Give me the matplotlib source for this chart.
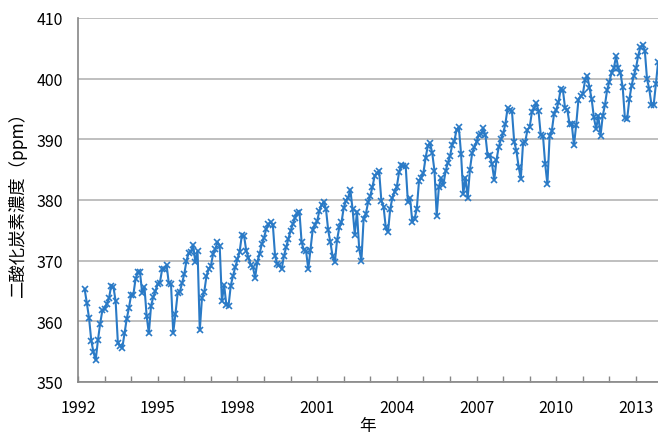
"""
Monthly CO2 concentration, 1992-2013
"""

import matplotlib
matplotlib.use('Agg')
from matplotlib import pyplot as plt
from matplotlib.ticker import MultipleLocator
import numpy as np

plt.rcParams['font.family'] = ['Noto Sans CJK JP', 'DejaVu Sans']

# first value is April 1992, one value per month
first_year = 1992
first_month = 4

co2_1992 = [365.3, 363.0, 360.5, 356.8, 354.9, 353.6, 356.9, 359.6, 361.8]
co2_1993 = [362.0, 362.9, 363.8, 365.9, 365.7, 363.3, 356.5, 356.0, 355.6, 358.0, 360.4, 362.2]
co2_1994 = [364.4, 364.4, 367.0, 368.1, 368.1, 364.6, 365.7, 360.9, 358.0, 362.6, 364.0, 365.0]
co2_1995 = [366.2, 366.4, 368.6, 368.7, 369.3, 366.3, 366.2, 358.1, 361.2, 364.6, 364.9, 366.3]
co2_1996 = [367.8, 370.0, 371.3, 371.5, 372.6, 369.7, 371.6, 358.5, 363.9, 364.8, 367.4, 368.6]
co2_1997 = [369.1, 371.1, 371.9, 373.1, 372.4, 363.3, 366.0, 362.7, 362.6, 365.9, 367.5, 368.9]
co2_1998 = [370.2, 371.5, 374.2, 374.1, 371.6, 370.5, 369.3, 368.9, 367.2, 369.8, 371.1, 372.7]
co2_1999 = [373.8, 375.2, 376.0, 376.3, 375.9, 370.8, 369.4, 369.3, 368.6, 370.8, 372.2, 373.6]
co2_2000 = [374.9, 376.0, 377.1, 377.9, 378.1, 373.0, 371.8, 371.6, 368.6, 371.8, 375.1, 375.9]
co2_2001 = [376.5, 378.2, 379.2, 379.7, 378.5, 375.0, 373.0, 370.7, 369.7, 373.4, 375.5, 376.3]
co2_2002 = [378.7, 379.9, 380.4, 381.7, 378.5, 374.3, 378.1, 371.9, 370.0, 376.9, 377.7, 379.6]
co2_2003 = [380.7, 382.2, 384.0, 384.4, 384.8, 379.9, 378.9, 375.5, 374.7, 378.5, 380.4, 381.4]
co2_2004 = [382.2, 384.6, 385.8, 385.6, 385.6, 379.6, 380.3, 376.3, 376.9, 378.5, 383.1, 383.7]
co2_2005 = [384.5, 387.0, 388.9, 389.4, 387.7, 384.8, 377.4, 382.2, 383.6, 382.5, 384.7, 386.1]
co2_2006 = [387.2, 389.1, 389.8, 391.6, 392.0, 387.6, 381.0, 383.7, 380.3, 385.0, 387.7, 388.7]
co2_2007 = [389.6, 390.7, 390.9, 391.8, 390.7, 387.3, 387.4, 385.9, 383.3, 386.6, 388.7, 390.0]
co2_2008 = [391.0, 392.5, 395.1, 394.9, 394.6, 389.6, 388.1, 385.5, 383.5, 389.4, 389.6, 391.6]
co2_2009 = [392.0, 394.5, 395.1, 396.0, 394.6, 390.7, 390.6, 385.9, 382.6, 390.5, 391.4, 394.2]
co2_2010 = [394.9, 396.1, 398.3, 398.1, 395.1, 394.9, 392.5, 392.5, 389.0, 392.4, 396.5, 397.1]
co2_2011 = [397.5, 399.7, 400.5, 398.5, 396.6, 393.6, 391.7, 393.9, 390.6, 393.9, 395.7, 398.2]
co2_2012 = [399.5, 401.0, 401.7, 403.7, 401.7, 400.9, 398.6, 393.5, 393.3, 396.6, 398.8, 400.5]
co2_2013 = [401.7, 403.8, 405.2, 405.5, 404.6, 399.9, 398.3, 395.7, 395.7, 399.1, 402.8]

ylabel = '二酸化炭素濃度（ppm）'
xlabel = '年'


def plot_co2():
    co2 = (co2_1992 + co2_1993 + co2_1994 + co2_1995 + co2_1996 + co2_1997 +
           co2_1998 + co2_1999 + co2_2000 + co2_2001 + co2_2002 + co2_2003 +
           co2_2004 + co2_2005 + co2_2006 + co2_2007 + co2_2008 + co2_2009 +
           co2_2010 + co2_2011 + co2_2012 + co2_2013)
    months = np.arange(len(co2)) + (first_month - 1)
    t = first_year + months / 12.0

    fig = plt.figure(figsize=(6.58, 4.39), dpi=100)
    ax = fig.add_axes([78 / 658, 1 - 383 / 439, 580 / 658, 364 / 439])

    ax.plot(t, co2, color='#2a7ac6', lw=1.5, marker='x', ms=4, mew=1.2)

    ax.set_xlim(1992, 1992 + 580 / 26.57)
    ax.set_ylim(350, 410)
    ax.xaxis.set_major_locator(MultipleLocator(3))
    ax.xaxis.set_minor_locator(MultipleLocator(1))
    ax.yaxis.set_major_locator(MultipleLocator(10))
    ax.grid(axis='y', color='#bfbfbf', lw=1.4)
    ax.set_axisbelow(True)

    for s in ['top', 'right']:
        ax.spines[s].set_visible(False)
    for s in ['left', 'bottom']:
        ax.spines[s].set_color('#868686')
        ax.spines[s].set_linewidth(1.2)

    ax.tick_params(axis='x', which='both', direction='in', length=4.5,
                   color='#868686', width=1, labelsize=11.5, pad=12)
    ax.tick_params(axis='y', length=0, labelsize=11.5, pad=11)

    ax.set_ylabel(ylabel, fontsize=12.5)
    ax.yaxis.set_label_coords(-0.088, 0.5)
    ax.set_xlabel(xlabel, fontsize=12, labelpad=1)

    fig.savefig('out.png', dpi=100)


if __name__ == '__main__':
    plot_co2()
